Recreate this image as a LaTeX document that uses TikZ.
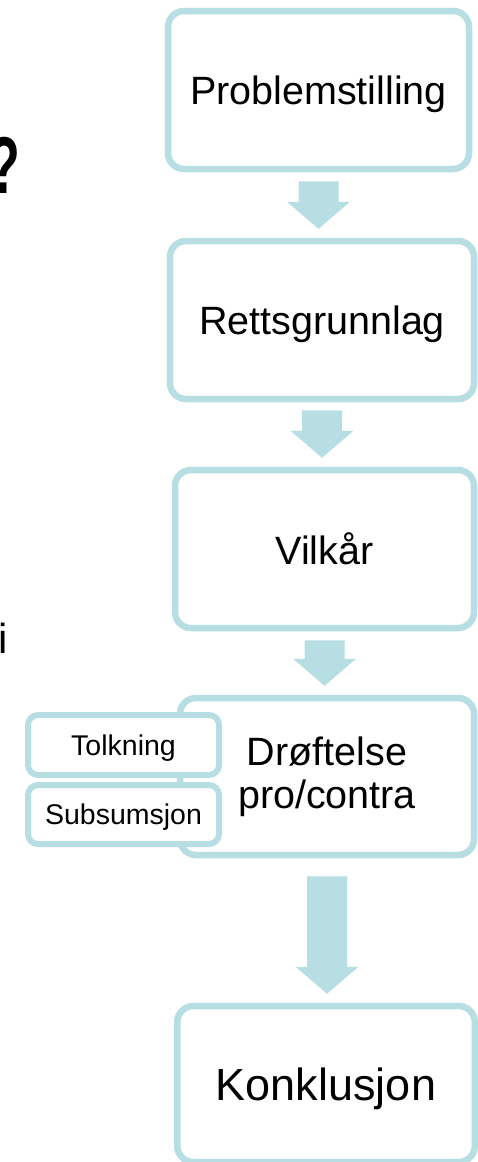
\documentclass[tikz,border=0pt]{standalone}
\usepackage{fontspec}
\setmainfont{Liberation Sans}
\usetikzlibrary{calc}
\definecolor{tealline}{RGB}{183,222,227}
\tikzset{
  box/.style={draw=tealline, line width=6.5pt, rounded corners=16pt, fill=white,
    inner sep=0pt, font=\fontsize{39.5}{43}\selectfont, align=center, text depth=0pt},
  box2/.style={draw=tealline, line width=6.5pt, rounded corners=16pt, fill=white,
    inner sep=0pt, font=\fontsize{39.5}{43}\selectfont, align=center},
  subbox/.style={draw=tealline, line width=6pt, rounded corners=10pt, fill=white,
    inner sep=0pt, font=\fontsize{28.5}{32}\selectfont, text depth=0pt},
  flow/.style={fill=tealline},
  sidetext/.style={inner sep=0pt, text=black},
}
\newcommand\blockarrow[3]{%
  \fill[flow] let \p1=(#1.south), \p2=(#2.north) in
    (\x1-20pt,\y1-#3pt) -- (\x1+20pt,\y1-#3pt) -- (\x1+20pt,\y2+36pt)
    -- (\x1+31.5pt,\y2+36pt) -- (\x1,\y2+9pt) -- (\x1-31.5pt,\y2+36pt)
    -- (\x1-20pt,\y2+36pt) -- cycle;}
\begin{document}
\begin{tikzpicture}[x=1pt,y=-1pt]
\useasboundingbox (0,0) rectangle (477,1162);
\fill[white] (0,0) rectangle (477,1162);
% partial texts at left edge
\node[sidetext, anchor=base east, font=\fontsize{52}{52}\selectfont\bfseries, yscale=1.55] (q) at (20,193) {?};
\node[sidetext, anchor=base west, font=\fontsize{42}{42}\selectfont] (iletter) at (-2,653) {i};
% main boxes
\node[box, minimum width=301pt, minimum height=158pt] (b1) at (318.5,90) {Problemstilling};
\node[box, minimum width=304pt, minimum height=158pt] (b2) at (322,320) {Rettsgrunnlag};
\node[box, minimum width=299pt, minimum height=158pt] (b3) at (324.5,549) {Vilkår};
\node[box2, minimum width=294pt, minimum height=157pt] (b4) at (327,776.5) {Drøftelse\\pro/contra};
\node[box, minimum width=297.5pt, minimum height=156pt] (b5) at (326,1084) {\fontsize{45}{50}\selectfont Konklusjon};
% side boxes
\node[subbox, minimum width=191pt, minimum height=60pt] (t) at (123.5,745) {Tolkning};
\node[subbox, minimum width=191pt, minimum height=59pt] (s) at (123.5,814.5) {Subsumsjon};
% arrows
\blockarrow{b1}{b2}{9}
\blockarrow{b2}{b3}{8}
\blockarrow{b3}{b4}{9}
\blockarrow{b4}{b5}{18}
\end{tikzpicture}
\end{document}
